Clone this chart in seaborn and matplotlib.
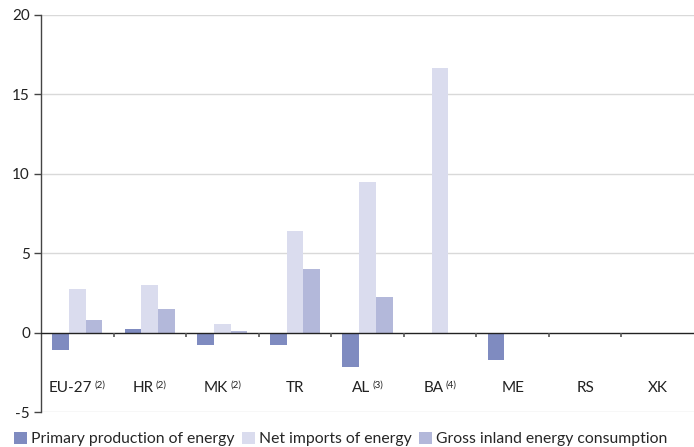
import numpy as np
import pandas as pd
import matplotlib
matplotlib.use("Agg")
import matplotlib.pyplot as plt
import matplotlib.transforms as mtransforms
import seaborn as sns

categories = ["EU-27", "HR", "MK", "TR", "AL", "BA", "ME", "RS", "XK"]
superscripts = ["(2)", "(2)", "(2)", "", "(3)", "(4)", "", "", ""]
series = ["Primary production of energy", "Net imports of energy", "Gross inland energy consumption"]
primary = [-1.07, 0.2, -0.8, -0.8, -2.18, np.nan, -1.74, np.nan, np.nan]
net_imports = [2.77, 3.0, 0.57, 6.4, 9.5, 16.67, np.nan, np.nan, np.nan]
gross_inland = [0.77, 1.5, 0.08, 4.0, 2.26, np.nan, np.nan, np.nan, np.nan]
colors = ["#7f8bc0", "#dadcee", "#b3b8da"]
yticks = [-5, 0, 5, 10, 15, 20]

rows = []
for s, vals in zip(series, [primary, net_imports, gross_inland]):
    for c, v in zip(categories, vals):
        rows.append({"cat": c, "series": s, "value": v})
df = pd.DataFrame(rows).dropna()

sns.set_style("white")
plt.rcParams["font.family"] = ["Lato", "DejaVu Sans"]

fig = plt.figure(figsize=(6.94, 4.47), dpi=100)
ax = fig.add_axes([41 / 694, 35 / 447, 653 / 694, 397 / 447])

for y in yticks:
    if y != 0:
        ax.axhline(y, color="#d9d9d9", lw=1.0, zorder=0)

sns.barplot(data=df, x="cat", y="value", hue="series", order=categories,
            hue_order=series, palette=colors, width=0.69, saturation=1,
            errorbar=None, ax=ax, zorder=2, legend=True, linewidth=0)

ax.axhline(0, color="#222222", lw=1.0, zorder=3)
ax.set_xlim(-0.5, len(categories) - 0.5)
ax.set_ylim(-5, 20)
ax.set_yticks(yticks)
ax.set_yticklabels([str(t) for t in yticks], fontsize=11, color="#222222")
ax.tick_params(axis="y", direction="out", length=5, width=1, color="#444444", pad=3, left=True)
ax.set_xticks([])
ax.set_xlabel("")
ax.set_ylabel("")
for sp in ["top", "right", "bottom"]:
    ax.spines[sp].set_visible(False)
ax.spines["left"].set_color("#444444")
ax.spines["left"].set_linewidth(1.0)

# group boundary ticks
bounds = np.arange(len(categories) - 1) + 0.5
ax.vlines(bounds, -0.28, 0, color="#555555", lw=1.2, zorder=3)

leg = ax.legend(loc="lower left", bbox_to_anchor=(-33 / 653, -0.102), ncol=3, frameon=False,
                fontsize=11.3, handlelength=0.8, handleheight=0.8, handletextpad=0.25,
                columnspacing=0.5, borderaxespad=0)
for h in leg.legend_handles:
    h.set_linewidth(0)

# category labels with superscripts, combined label centred on category
fig.canvas.draw()
renderer = fig.canvas.get_renderer()
for i, (c, sup) in enumerate(zip(categories, superscripts)):
    t = ax.text(i, -3.5, c, ha="left", va="center", fontsize=11, color="#222222")
    bb = t.get_window_extent(renderer)
    wmain = bb.width
    wsup = 0
    s = None
    if sup:
        s = ax.text(0, 0, sup, fontsize=7, color="#222222", ha="left", va="top")
        wsup = s.get_window_extent(renderer).width + 2
    total = wmain + wsup
    xc_disp = ax.transData.transform((i, -3.5))
    x0 = xc_disp[0] - total / 2
    t.set_position(ax.transData.inverted().transform((x0, xc_disp[1])))
    if s is not None:
        s.set_transform(mtransforms.IdentityTransform())
        s.set_position((x0 + wmain + 2, bb.y1 + 1))

fig.savefig("out.png", dpi=100)
